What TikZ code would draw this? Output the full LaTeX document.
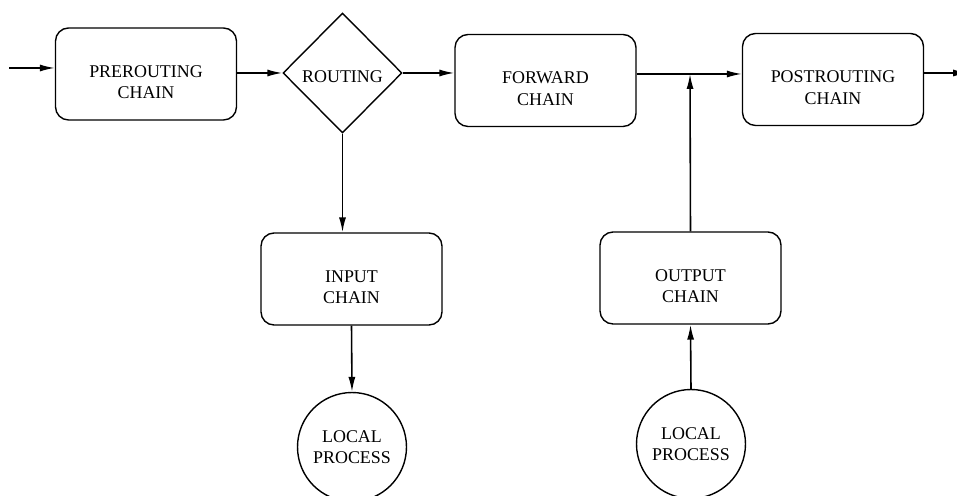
\documentclass[tikz,border=0pt]{standalone}
\usepackage{fontspec}
\setmainfont{Liberation Serif}
\usepackage{tikz}
\usetikzlibrary{positioning,arrows.meta,shapes.geometric}

% two-line label, pushed a little down in its box
\newcommand{\twoline}[2]{\rule{0pt}{16pt}#1\\#2}

\begin{document}
\begin{tikzpicture}[
    x=0.02cm, y=-0.02cm,
    chainbox/.style={draw, line width=0.8pt, rounded corners=0.26cm, minimum width=3.62cm, minimum height=1.84cm, align=center, font=\fontsize{10.2}{12.2}\selectfont},
    decision/.style={draw, line width=0.8pt, diamond, inner sep=0pt, minimum width=2.38cm, minimum height=2.4cm, font=\fontsize{10.2}{12.2}\selectfont},
    proc/.style={draw, line width=0.8pt, circle, inner sep=0pt, minimum size=2.18cm, align=center, font=\fontsize{10.2}{12.2}\selectfont},
    arrow/.style={-{Latex[length=8.5pt, width=4pt]}, line width=0.9pt}
]
\useasboundingbox (0,0) rectangle (957,496);

% Main path along the top
\node[chainbox] (pre) at (146,74) {\twoline{PREROUTING}{CHAIN}};
\node[decision] (routing) at (342.5,73) {\rule{0pt}{11pt}ROUTING};
\node[chainbox] (fwd) at (545.5,80.5) {\twoline{FORWARD}{CHAIN}};
\node[chainbox] (post) at (833,79.5) {\twoline{POSTROUTING}{CHAIN}};

% Local side
\node[chainbox] (input) at (351.5,279) {\twoline{INPUT}{CHAIN}};
\node[chainbox] (output) at (690.5,278) {\twoline{OUTPUT}{CHAIN}};
\node[proc] (lp1) at (352,447) {LOCAL\\PROCESS};
\node[proc] (lp2) at (691,444) {LOCAL\\PROCESS};

% Free ends and junction
\coordinate (entry) at (9,68);
\coordinate (exit) at (968,73);
\coordinate (jn) at (690,74);

% Connectors
\draw[arrow] (entry) -- (entry -| pre.west);
\draw[arrow] (pre.east |- routing.west) -- (routing.west);
\draw[arrow] (routing.east) -- (routing.east -| fwd.west);
\draw[arrow] (fwd.east |- jn) -- (jn -| post.west);
\draw[arrow] (post.east |- exit) -- (exit);
\draw[arrow] (routing.south) -- (routing.south |- input.north);
\draw[arrow] (input.south) -- (lp1.north);
\draw[arrow] (output.north) -- (jn);
\draw[arrow] (lp2.north) -- (output.south);

\end{tikzpicture}
\end{document}
